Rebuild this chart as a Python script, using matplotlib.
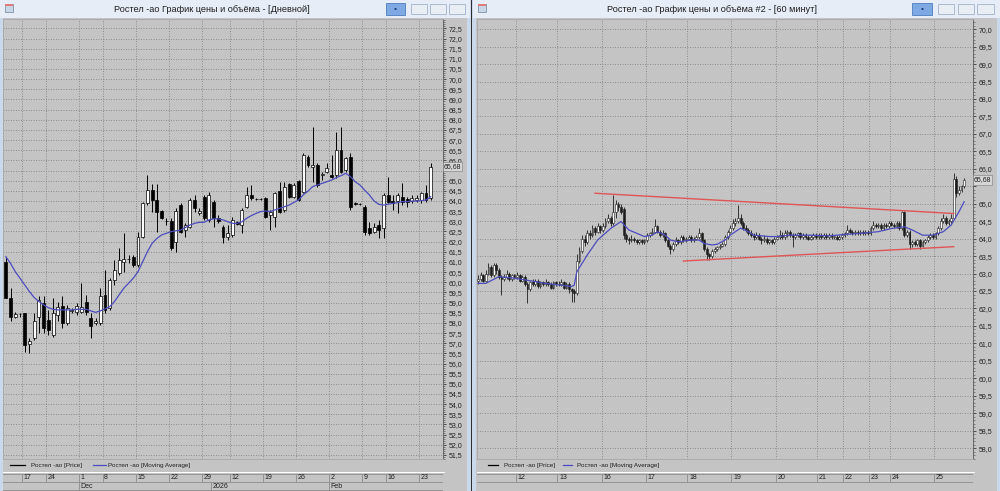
import numpy as np
import matplotlib.pyplot as plt
from matplotlib.patches import Rectangle
from matplotlib.ticker import MultipleLocator, FuncFormatter

# ---------- daily chart (left window) ----------
d_open = [61.02, 59.25, 58.31, 58.45, 58.48, 56.97, 57.25, 58.31, 58.97, 58.15,
          57.41, 58.39, 58.85, 57.98, 58.60, 58.56, 58.56, 59.02, 58.23, 57.98,
          57.98, 59.38, 58.72, 60.11, 60.44, 61.02, 61.15, 61.26, 60.85, 62.25,
          63.89, 64.54, 64.05, 63.51, 63.02, 63.02, 62.00, 63.80, 62.57, 62.74,
          64.05, 63.39, 64.21, 63.07, 63.97, 63.15, 62.74, 62.25, 62.33, 62.98,
          62.82, 63.72, 64.30, 64.10, 64.08, 64.13, 63.31, 63.23, 64.49, 63.56,
          64.82, 64.21, 64.98, 64.46, 66.18, 65.69, 65.77, 65.30, 65.44, 65.28,
          65.28, 66.51, 65.53, 66.18, 63.92, 63.84, 63.72, 62.66, 62.49, 62.82,
          62.66, 64.30, 64.00, 64.00, 64.21, 64.10, 64.00, 64.03, 64.05, 64.38,
          64.13]
d_high = [61.26, 59.71, 58.56, 58.47, 58.50, 57.25, 58.48, 59.30, 59.30, 58.64,
          59.21, 59.05, 59.30, 58.89, 58.72, 58.97, 59.95, 59.38, 58.48, 58.23,
          59.71, 60.61, 60.20, 61.10, 61.67, 62.41, 61.34, 61.34, 62.49, 63.97,
          65.28, 64.82, 64.82, 63.56, 63.15, 63.15, 63.64, 63.89, 62.90, 64.13,
          64.30, 63.64, 64.30, 64.46, 64.05, 63.30, 62.82, 62.82, 63.23, 63.02,
          63.64, 64.71, 64.79, 64.13, 64.13, 64.21, 63.56, 64.46, 64.95, 64.95,
          64.87, 64.87, 65.03, 66.34, 66.26, 67.66, 65.85, 65.45, 65.85, 66.26,
          67.41, 67.66, 66.18, 66.34, 63.97, 63.89, 63.80, 62.98, 62.90, 63.07,
          64.38, 65.20, 64.30, 64.38, 64.87, 64.21, 64.30, 64.30, 64.46, 64.79,
          65.85]
d_low = [59.21, 58.10, 58.26, 58.31, 56.56, 56.51, 57.16, 57.49, 57.49, 57.41,
         57.33, 58.07, 57.74, 57.90, 58.48, 58.39, 58.48, 58.39, 57.25, 57.90,
         57.90, 58.48, 58.64, 59.87, 60.36, 60.52, 60.93, 60.77, 60.77, 62.16,
         63.80, 63.48, 62.49, 63.12, 62.82, 61.59, 61.51, 62.41, 62.25, 62.66,
         63.48, 63.31, 63.07, 62.98, 62.74, 62.90, 61.92, 62.08, 62.25, 62.82,
         62.41, 63.64, 64.05, 64.05, 64.05, 63.15, 62.57, 62.74, 63.39, 63.48,
         64.13, 64.13, 64.00, 64.38, 65.69, 64.95, 64.71, 65.05, 65.36, 65.12,
         65.12, 65.36, 65.44, 63.56, 63.80, 63.80, 62.33, 62.33, 62.41, 62.16,
         62.16, 63.89, 63.56, 63.39, 63.80, 63.72, 63.92, 63.97, 63.89, 63.97,
         64.05]
d_close = [59.25, 58.31, 58.44, 58.44, 56.92, 57.13, 58.07, 59.13, 57.74, 57.66,
           58.48, 58.80, 57.98, 58.75, 58.62, 58.84, 58.80, 58.56, 57.87, 58.10,
           59.30, 58.64, 60.11, 60.61, 61.10, 61.15, 61.17, 60.85, 62.25, 63.89,
           64.54, 64.05, 63.48, 63.18, 63.00, 61.67, 63.51, 62.49, 62.82, 64.05,
           63.64, 63.52, 63.15, 64.30, 63.15, 63.00, 62.25, 62.41, 63.07, 62.85,
           63.56, 64.30, 64.13, 64.08, 64.10, 63.23, 63.48, 64.38, 63.48, 64.71,
           64.21, 64.79, 64.05, 66.26, 65.77, 65.77, 64.79, 65.33, 65.61, 65.20,
           66.51, 65.44, 66.10, 63.72, 63.84, 63.84, 62.49, 62.41, 62.74, 62.57,
           64.30, 63.97, 63.89, 64.30, 63.97, 63.97, 64.13, 64.16, 64.38, 64.05,
           65.68]
d_ma = [61.26, 60.93, 60.52, 60.20, 59.87, 59.54, 59.25, 59.05, 58.89, 58.75,
        58.67, 58.64, 58.64, 58.64, 58.64, 58.67, 58.67, 58.67, 58.59, 58.52,
        58.59, 58.69, 58.80, 59.05, 59.38, 59.71, 59.95, 60.20, 60.52, 61.02,
        61.51, 61.92, 62.16, 62.33, 62.41, 62.49, 62.53, 62.57, 62.69, 62.82,
        62.90, 62.95, 62.95, 63.07, 63.12, 63.12, 63.07, 62.98, 62.90, 62.90,
        62.98, 63.15, 63.28, 63.39, 63.48, 63.51, 63.48, 63.56, 63.64, 63.72,
        63.80, 63.93, 64.05, 64.30, 64.49, 64.71, 64.79, 64.87, 64.95, 65.03,
        65.15, 65.25, 65.36, 65.20, 64.95, 64.79, 64.54, 64.30, 64.00, 63.84,
        63.80, 63.84, 63.89, 63.92, 63.97, 63.97, 64.00, 64.00, 64.02, 64.05,
        64.21]
d_week_first = [4, 9, 16, 21, 28, 35, 42, 48, 55, 62, 69, 76, 81, 88]
d_week_labels = ['17', '24', '1', '8', '15', '22', '29', '12', '19', '26', '2', '9', '16', '23']
d_month_first = [16, 44, 69]
d_month_labels = ['Dec', '2026', 'Feb']

# ---------- hourly chart (right window) ----------
h_open = [62.80, 62.85, 62.95, 62.80, 63.00, 63.20, 62.95, 63.25, 63.10, 62.90, 62.85, 62.90, 63.00, 62.85, 62.95,
          62.90, 62.95, 62.80, 62.90, 62.70, 62.55, 62.75, 62.70, 62.80, 62.65, 62.75, 62.70, 62.75, 62.70, 62.60, 62.75,
          62.70, 62.70, 62.75, 62.60, 62.70, 62.55, 62.50, 62.45, 63.35, 63.65, 64.00, 63.90, 64.15, 64.10, 64.30, 64.20, 64.35,
          64.25, 64.35, 64.50, 64.60, 64.45, 64.75, 65.00, 64.90, 64.85, 64.10, 64.00, 63.95, 64.00, 63.95, 63.90, 63.95, 63.90,
          63.95, 64.10, 64.15, 64.20, 64.35, 64.20, 64.10, 64.15, 63.95, 63.80, 63.70, 63.85, 63.95, 63.90, 64.05, 63.95,
          64.00, 64.05, 63.95, 64.00, 64.05, 64.15, 63.95, 63.70, 63.55, 63.50, 63.65, 63.70, 63.75, 63.80, 63.85, 64.05, 64.20,
          64.30, 64.45, 64.50, 64.60, 64.45, 64.30, 64.25, 64.15, 64.10, 64.05, 64.10, 64.00, 63.95, 64.00, 63.90, 63.95, 63.90,
          64.00, 64.05, 64.10, 64.05, 64.15, 64.20, 64.10, 64.05, 64.10, 64.15, 64.05, 64.10, 64.05, 64.00, 64.05, 64.10,
          64.05, 64.10, 64.05, 64.10, 64.05, 64.10, 64.05, 64.05, 64.00, 64.05,
          64.10, 64.15, 64.25, 64.20, 64.15, 64.20, 64.15, 64.20, 64.15, 64.20,
          64.15, 64.30, 64.40, 64.35, 64.40, 64.30, 64.40, 64.35,
          64.45, 64.40, 64.35, 64.45, 64.30, 64.75, 64.10, 64.20, 63.85, 63.90, 63.85, 63.95, 63.80, 63.90, 63.95, 64.05, 64.10,
          64.05, 64.15, 64.30, 64.50, 64.60, 64.45, 64.50, 64.60, 65.70, 65.30, 65.40, 65.50]
h_high = [62.95, 63.05, 63.00, 63.10, 63.30, 63.25, 63.30, 63.30, 63.15, 62.95, 63.00, 63.10, 63.05, 63.00, 63.00,
          63.05, 63.00, 62.95, 62.95, 62.75, 62.80, 62.85, 62.85, 62.85, 62.80, 62.80, 62.85, 62.80, 62.75, 62.80, 62.80,
          62.80, 62.85, 62.80, 62.75, 62.75, 62.60, 62.55, 63.55, 63.75, 64.10, 64.10, 64.25, 64.25, 64.40, 64.35, 64.45, 64.40,
          64.45, 64.60, 64.70, 64.65, 65.25, 65.10, 65.05, 65.00, 64.90, 64.15, 64.05, 64.10, 64.05, 64.00, 64.00, 64.00, 64.00,
          64.15, 64.20, 64.30, 64.55, 64.40, 64.25, 64.25, 64.20, 64.00, 63.85, 63.90, 64.05, 64.00, 64.10, 64.10, 64.05,
          64.10, 64.10, 64.05, 64.10, 64.30, 64.20, 64.00, 63.75, 63.60, 63.70, 63.75, 63.80, 63.85, 63.90, 64.10, 64.25, 64.40,
          64.55, 64.60, 64.95, 64.70, 64.50, 64.40, 64.30, 64.25, 64.15, 64.20, 64.15, 64.05, 64.10, 64.05, 64.00, 64.00, 64.05,
          64.10, 64.25, 64.20, 64.25, 64.25, 64.25, 64.15, 64.15, 64.20, 64.20, 64.15, 64.15, 64.10, 64.10, 64.15, 64.15,
          64.15, 64.15, 64.15, 64.15, 64.15, 64.15, 64.10, 64.10, 64.10, 64.15,
          64.20, 64.40, 64.30, 64.25, 64.25, 64.25, 64.25, 64.25, 64.25, 64.25,
          64.35, 64.50, 64.45, 64.45, 64.45, 64.45, 64.45, 64.50,
          64.50, 64.45, 64.50, 64.50, 64.80, 64.80, 64.25, 64.25, 63.95, 63.95, 64.00, 64.00, 63.95, 64.00, 64.10, 64.15, 64.15,
          64.20, 64.35, 64.60, 64.70, 64.65, 64.55, 64.70, 65.87, 65.80, 65.50, 65.55, 65.75]
h_low = [62.70, 62.80, 62.75, 62.75, 62.95, 62.90, 62.90, 63.00, 62.85, 62.40, 62.80, 62.85, 62.80, 62.80, 62.85,
         62.85, 62.75, 62.75, 62.65, 62.15, 62.50, 62.65, 62.65, 62.60, 62.60, 62.65, 62.65, 62.65, 62.55, 62.55, 62.65,
         62.65, 62.65, 62.55, 62.55, 62.45, 62.20, 62.20, 62.40, 63.30, 63.60, 63.80, 63.85, 64.00, 64.05, 64.10, 64.15, 64.15,
         64.20, 64.30, 64.45, 64.35, 64.40, 64.60, 64.80, 64.70, 64.00, 63.90, 63.85, 63.90, 63.90, 63.85, 63.85, 63.85, 63.85,
         63.90, 64.05, 64.10, 64.15, 64.15, 64.05, 64.05, 63.90, 63.75, 63.55, 63.65, 63.80, 63.85, 63.85, 63.90, 63.90,
         63.95, 63.90, 63.90, 63.95, 64.00, 63.90, 63.65, 63.40, 63.40, 63.45, 63.60, 63.65, 63.70, 63.75, 63.80, 64.00, 64.15,
         64.25, 64.35, 64.45, 64.40, 64.25, 64.20, 64.10, 64.05, 63.95, 64.00, 63.95, 63.85, 63.90, 63.85, 63.85, 63.85, 63.85,
         63.95, 64.00, 64.00, 64.00, 64.05, 64.05, 63.75, 64.00, 64.05, 64.00, 64.00, 64.00, 63.95, 63.95, 64.00, 64.00,
         64.00, 64.00, 64.00, 64.00, 64.00, 64.00, 64.00, 63.95, 63.95, 64.00,
         64.05, 64.10, 64.15, 64.10, 64.10, 64.10, 64.10, 64.10, 64.10, 64.10,
         64.10, 64.25, 64.30, 64.30, 64.25, 64.25, 64.30, 64.30,
         64.35, 64.30, 64.30, 64.25, 64.25, 64.05, 64.05, 63.70, 63.75, 63.80, 63.80, 63.70, 63.75, 63.85, 63.90, 64.00, 64.00,
         64.00, 64.10, 64.25, 64.45, 64.40, 64.40, 64.45, 64.55, 65.20, 65.25, 65.35, 65.45]
h_close = [62.85, 62.95, 62.80, 63.00, 63.20, 62.95, 63.25, 63.10, 62.90, 62.85, 62.90, 63.00, 62.85, 62.95, 62.90,
           62.95, 62.80, 62.90, 62.70, 62.55, 62.75, 62.70, 62.80, 62.65, 62.75, 62.70, 62.75, 62.70, 62.60, 62.75, 62.70,
           62.70, 62.75, 62.60, 62.70, 62.55, 62.50, 62.45, 63.35, 63.65, 64.00, 63.90, 64.15, 64.10, 64.30, 64.20, 64.35, 64.25,
           64.35, 64.50, 64.60, 64.45, 64.75, 65.00, 64.90, 64.75, 64.10, 64.00, 63.95, 64.00, 63.95, 63.90, 63.95, 63.90, 63.95,
           64.10, 64.15, 64.20, 64.35, 64.20, 64.10, 64.15, 63.95, 63.80, 63.70, 63.85, 63.95, 63.90, 64.05, 63.95, 64.00,
           64.05, 63.95, 64.00, 64.05, 64.15, 63.95, 63.70, 63.55, 63.50, 63.65, 63.70, 63.75, 63.80, 63.85, 64.05, 64.20, 64.30,
           64.45, 64.50, 64.60, 64.45, 64.30, 64.25, 64.15, 64.10, 64.05, 64.10, 64.00, 63.95, 64.00, 63.90, 63.95, 63.90, 64.00,
           64.05, 64.10, 64.05, 64.15, 64.20, 64.10, 64.05, 64.10, 64.15, 64.05, 64.10, 64.05, 64.00, 64.05, 64.10, 64.05,
           64.10, 64.05, 64.10, 64.05, 64.10, 64.05, 64.05, 64.00, 64.05, 64.10,
           64.15, 64.25, 64.20, 64.15, 64.20, 64.15, 64.20, 64.15, 64.20, 64.15,
           64.30, 64.40, 64.35, 64.40, 64.30, 64.40, 64.35, 64.45,
           64.40, 64.35, 64.45, 64.30, 64.75, 64.10, 64.20, 63.85, 63.90, 63.85, 63.95, 63.80, 63.90, 63.95, 64.05, 64.10, 64.05,
           64.15, 64.30, 64.50, 64.60, 64.45, 64.50, 64.60, 65.70, 65.30, 65.40, 65.50, 65.68]
h_ma_bar = [0, 3, 8, 13, 18, 26, 36, 37, 38, 42, 46, 51, 55, 58, 64, 67, 69, 72, 74, 77, 82, 85, 87, 90,
            92, 95, 97, 101, 104, 106, 112, 115, 120, 128, 135, 141, 147, 154, 159, 164, 167, 171, 175,
            179, 182, 185, 187]
h_ma_val = [62.72, 62.72, 62.91, 62.88, 62.82, 62.72, 62.63, 62.67, 63.05, 63.53, 63.96, 64.29, 64.49, 64.25,
            64.06, 64.10, 64.20, 64.10, 63.96, 63.91, 63.96, 63.96, 63.86, 63.82, 63.84, 63.96, 64.10, 64.30,
            64.20, 64.10, 64.06, 64.06, 64.10, 64.10, 64.08, 64.12, 64.15, 64.20, 64.29, 64.34, 64.25, 64.10,
            64.10, 64.20, 64.39, 64.77, 65.06]
h_upper_bar = [45, 183]
h_upper_val = [65.30, 64.72]
h_lower_bar = [79, 183]
h_lower_val = [63.36, 63.77]
h_day_first = [15, 31, 48, 65, 81, 98, 115, 131, 141, 151, 159, 176]
h_day_labels = ['12', '13', '16', '17', '18', '19', '20', '21', '22', '23', '24', '25']

W, H = 1000, 491
BG = '#c4c4c4'
GRID = '#858585'
MA_COLOR = '#4c4cc0'
TREND = '#e05555'

plt.rcParams['font.family'] = ['Liberation Sans', 'DejaVu Sans']

fig = plt.figure(figsize=(W / 100, H / 100), dpi=100)
fig.patch.set_facecolor('#c9d8ea')


def box(x0, y0, x1, y1):
    return [x0 / W, 1 - y1 / H, (x1 - x0) / W, (y1 - y0) / H]


def rect(x0, y0, x1, y1, fc, ec='none', lw=0.6, z=0):
    fig.add_artist(Rectangle((x0 / W, 1 - y1 / H), (x1 - x0) / W, (y1 - y0) / H,
                             transform=fig.transFigure, fc=fc, ec=ec, lw=lw, zorder=z))


def window(x0, x1, title, title_cx, btn_blue, btns):
    rect(x0, 0, x1, 18, '#e6edf6')
    rect(x0 + 3, 18, x1 - 3, H, BG)
    rect(x0 + 5, 4, x0 + 13, 12, '#c9d6e6', ec='#7f93ad', lw=0.6, z=2)
    rect(x0 + 5, 4, x0 + 13, 6, '#e07b7b', z=2)
    fig.text(title_cx / W, 1 - 9.5 / H, title, ha='center', va='center',
             fontsize=6.6, color='#1e1e1e')
    rect(btn_blue[0], 3, btn_blue[1], 15, '#7fa9e2', ec='#4d7cc0', z=2)
    fig.text((btn_blue[0] + btn_blue[1]) / 2 / W, 1 - 9 / H, '\u2022', ha='center', va='center',
             fontsize=6, color='#1a3a7a')
    for bx0, bx1 in btns:
        rect(bx0, 4, bx1, 14, '#e9eef5', ec='#9fb3cc', z=2)


def candles(ax, o, h, l, c, width, wick_lw, edge_lw, edge):
    o, h, l, c = (np.asarray(v, dtype=float) for v in (o, h, l, c))
    x = np.arange(len(c))
    ax.vlines(x, l, h, color=edge, lw=wick_lw, zorder=3)
    up = c >= o
    lo = np.minimum(o, c)
    hgt = np.maximum(np.abs(c - o), 0.015)
    ax.bar(x[up], hgt[up], width, lo[up], color='white', edgecolor=edge, linewidth=edge_lw, zorder=4)
    ax.bar(x[~up], hgt[~up], width, lo[~up], color=edge, edgecolor=edge, linewidth=edge_lw, zorder=4)


def price_axes(px, xlim, ylim, seps, last):
    ax = fig.add_axes(box(*px))
    ax.set_facecolor(BG)
    ax.set_xlim(*xlim)
    ax.set_ylim(*ylim)
    ax.yaxis.tick_right()
    ax.yaxis.set_major_locator(MultipleLocator(0.5))
    ax.yaxis.set_minor_locator(MultipleLocator(0.1))
    # the last-price box covers the tick label right under it
    ax.yaxis.set_major_formatter(FuncFormatter(
        lambda v, _: '' if abs(v - last) < 0.2 else f'{v:.1f}'.replace('.', ',')))
    ax.tick_params(axis='y', which='major', length=2.5, width=0.5, pad=1.5,
                   labelsize=5, colors='#202020')
    ax.tick_params(axis='y', which='minor', length=1.2, width=0.4, colors='#404040')
    ax.set_xticks(np.asarray(seps) - 0.5)
    ax.tick_params(axis='x', length=0, labelbottom=False)
    ax.grid(True, which='major', color=GRID, lw=0.6, linestyle=(0, (1.2, 1.8)))
    for s in ax.spines.values():
        s.set_color('#a8a8a8')
        s.set_linewidth(0.6)
    ax.spines['right'].set_color('#5a5a5a')
    ax.text(1.0015, last, f'{last:.2f}'.replace('.', ','),
            transform=ax.get_yaxis_transform(), ha='left', va='center', fontsize=5,
            color='#202020', zorder=10, clip_on=False,
            bbox=dict(boxstyle='square,pad=0.15', fc='#d6d6d6', ec='#8a8a8a', lw=0.5))
    return ax


def legend_strip(px, pos):
    ax = fig.add_axes(box(*px))
    ax.set_xlim(0, px[2] - px[0])
    ax.set_ylim(0, 1)
    ax.axis('off')
    ax.plot(pos[0], [0.5, 0.5], color='black', lw=0.9)
    ax.text(pos[1], 0.5, 'Ростел -ао [Price]', fontsize=4.6, va='center', color='#202020')
    ax.plot(pos[2], [0.5, 0.5], color=MA_COLOR, lw=0.9)
    ax.text(pos[3], 0.5, 'Ростел -ао [Moving Average]', fontsize=4.6, va='center', color='#202020')


def date_strip(px, xlim, first, labels, m_first=None, m_labels=None):
    ax = fig.add_axes(box(*px))
    ax.set_facecolor(BG)
    ax.set_xlim(*xlim)
    ax.set_ylim(0, 2)
    ax.set_xticks([])
    ax.set_yticks([])
    for s in ax.spines.values():
        s.set_visible(False)
    ax.axhline(1.9, color='#8c8c8c', lw=0.6)
    ax.axhline(1.0, color='#8c8c8c', lw=0.6)
    off = 0.35 * (xlim[1] - xlim[0]) / 100
    seps = np.asarray(first) - 0.5
    ax.vlines(seps, 1.0, 1.9, color='#8c8c8c', lw=0.6)
    for s, lab in zip(seps, labels):
        ax.text(s + off, 1.45, lab, fontsize=5, va='center', ha='left', color='#202020')
    if m_first is not None:
        ax.axhline(0.08, color='#8c8c8c', lw=0.6)
        ms = np.asarray(m_first) - 0.5
        ax.vlines(ms, 0.08, 1.0, color='#8c8c8c', lw=0.6)
        for s, lab in zip(ms, m_labels):
            ax.text(s + off, 0.54, lab, fontsize=5, va='center', ha='left', color='#202020')


# ---------- windows ----------
window(0, 470, 'Ростел -ао График цены и объёма - [Дневной]', 212,
       (386, 405), [(411, 427), (430, 446), (449, 465)])
window(473, 1000, 'Ростел -ао График цены и объёма #2 - [60 минут]', 712,
       (912, 932), [(938, 954), (958, 974), (977, 994)])
rect(470, 0, 473, H, '#c9d8ea', z=1)
rect(471, 0, 472, H, '#2e2e2e', z=2)

# ---------- left: daily ----------
left_xlim = (-0.6, 92.6)
axl = price_axes((3, 19, 443, 459), left_xlim, (51.3, 72.96), d_week_first, d_close[-1])
candles(axl, d_open, d_high, d_low, d_close, 0.62, 0.7, 0.5, 'black')
axl.plot(np.arange(len(d_ma)), d_ma, color=MA_COLOR, lw=0.9, zorder=5)
legend_strip((3, 459, 443, 471), ([7, 22], 28, [90, 103], 105))
rect(3, 471.5, 445, 472.5, 'white', z=3)
date_strip((3, 473, 443, 491), left_xlim, d_week_first, d_week_labels,
           d_month_first, d_month_labels)

# ---------- right: hourly ----------
right_xlim = (-0.4, 190.4)
axr = price_axes((477, 19, 973, 459), right_xlim, (57.69, 70.29), h_day_first, h_close[-1])
candles(axr, h_open, h_high, h_low, h_close, 0.7, 0.6, 0.4, '#1c1c1c')
axr.plot(h_ma_bar, h_ma_val, color=MA_COLOR, lw=0.9, zorder=5)
axr.plot(h_upper_bar, h_upper_val, color=TREND, lw=1.0, zorder=6)
axr.plot(h_lower_bar, h_lower_val, color=TREND, lw=1.0, zorder=6)
legend_strip((477, 459, 973, 471), ([11, 21], 27, [86, 95], 100))
rect(477, 471.5, 975, 472.5, 'white', z=3)
date_strip((477, 473, 973, 491), right_xlim, h_day_first, h_day_labels)

fig.savefig('out.png', dpi=100, facecolor=fig.get_facecolor())
